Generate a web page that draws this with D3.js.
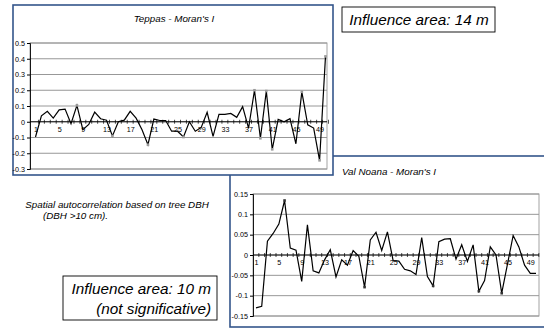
<!DOCTYPE html>
<html>
<head>
<meta charset="utf-8">
<script src="https://cdn.jsdelivr.net/npm/d3@7"></script>
<style>
  body { margin: 0; background: #fff; }
  svg { display: block; font-family: Arial, "Liberation Sans", sans-serif; }
</style>
</head>
<body>
<svg id="chart" width="544" height="329"></svg>
<script>
// categories 1..50 (distance classes)
const categories = d3.range(1, 51);
const catLabels = [1, 5, 9, 13, 17, 21, 25, 29, 33, 37, 41, 45, 49];

// Teppas - Moran's I
const teppasValues = [-0.097, 0.038, 0.066, 0.023, 0.076, 0.08, -0.013, 0.104, -0.05, -0.017,
  0.061, 0.019, 0.01, -0.09, 0.0, 0.01, 0.066, 0.023, -0.051, -0.146,
  0.017, 0.008, 0.008, -0.06, -0.06, -0.097, 0.0, -0.06, -0.036, 0.06,
  -0.093, 0.047, 0.047, 0.053, 0.028, 0.096, -0.04, 0.2, -0.105, 0.195,
  -0.175, 0.015, 0.0, 0.02, -0.14, 0.19, -0.02, -0.04, -0.245, 0.415];
const teppasMarked = [8, 14, 20, 26, 38, 39, 40, 41, 46, 49, 50];
const teppasTicks = [0.5, 0.4, 0.3, 0.2, 0.1, 0, -0.1, -0.2, -0.3];

// Val Noana - Moran's I
const noanaValues = [-0.13, -0.126, 0.034, 0.053, 0.076, 0.134, 0.017, 0.012, -0.065, 0.074,
  -0.039, -0.044, -0.012, 0.013, -0.054, -0.012, -0.025, 0.011, -0.003, -0.079,
  0.037, 0.056, 0.011, 0.057, -0.014, -0.015, -0.035, -0.039, -0.048, 0.043,
  -0.053, -0.076, 0.033, 0.039, 0.04, -0.01, 0.025, -0.016, 0.025, -0.089,
  -0.063, 0.02, 0.0, -0.094, -0.023, 0.048, 0.02, -0.025, -0.045, -0.045];
const noanaMarked = [6, 20, 32, 40, 44];
const noanaTicks = [0.15, 0.1, 0.05, 0, -0.05, -0.1, -0.15];

const svg = d3.select('#chart');
const frameColor = '#34558b';

function drawChart(g, cfg) {
  // frame
  g.append('rect')
    .attr('x', cfg.frame[0]).attr('y', cfg.frame[1])
    .attr('width', cfg.frame[2]).attr('height', cfg.frame[3])
    .attr('fill', '#fff')
    .attr('stroke', frameColor)
    .attr('stroke-width', 1.6);

  g.append('text')
    .attr('x', cfg.titleX).attr('y', cfg.titleY)
    .attr('text-anchor', 'middle')
    .attr('font-size', 9.8)
    .attr('font-style', 'italic')
    .text(cfg.title);

  const x = d3.scalePoint()
    .domain(categories)
    .range([cfg.firstX, cfg.lastX]);
  const step = x.step();
  const y = d3.scaleLinear()
    .domain(cfg.yDomain)
    .range([cfg.bottom, cfg.top]);

  // gridlines
  g.append('g')
    .selectAll('line')
    .data(cfg.ticks)
    .join('line')
    .attr('x1', cfg.left).attr('x2', cfg.right)
    .attr('y1', d => y(d)).attr('y2', d => y(d))
    .attr('stroke', '#8c8c8c')
    .attr('stroke-width', 0.9);

  // plot border
  g.append('rect')
    .attr('x', cfg.left).attr('y', cfg.top)
    .attr('width', cfg.right - cfg.left).attr('height', cfg.bottom - cfg.top)
    .attr('fill', 'none')
    .attr('stroke', '#9a9a9a')
    .attr('stroke-width', 0.9);

  // y axis
  const yAxis = g.append('g')
    .attr('transform', `translate(${cfg.left},0)`)
    .call(d3.axisLeft(y).tickValues(cfg.ticks).tickSize(3).tickPadding(2)
      .tickFormat(d => d === 0 ? '0' : String(d)));
  yAxis.select('.domain').attr('stroke', '#000').attr('stroke-width', 0.9);
  yAxis.selectAll('.tick line').attr('stroke', '#000');
  yAxis.selectAll('text').attr('font-size', 7.2).attr('font-family', 'Arial, "Liberation Sans", sans-serif').attr('fill', '#000');

  // category labels under the zero line
  const xAxis = g.append('g')
    .attr('transform', `translate(0,${y(0)})`)
    .call(d3.axisBottom(x).tickValues(catLabels).tickSize(0).tickPadding(5));
  xAxis.select('.domain').remove();
  xAxis.selectAll('text').attr('font-size', 7.2).attr('font-family', 'Arial, "Liberation Sans", sans-serif').attr('fill', '#000');

  // zero axis with crossing ticks at category boundaries
  g.append('line')
    .attr('x1', cfg.left).attr('x2', cfg.right)
    .attr('y1', y(0)).attr('y2', y(0))
    .attr('stroke', '#000').attr('stroke-width', 0.9);
  g.append('g')
    .selectAll('line')
    .data(categories)
    .join('line')
    .attr('x1', d => x(d) + step / 2).attr('x2', d => x(d) + step / 2)
    .attr('y1', y(0) - 2).attr('y2', y(0) + 2)
    .attr('stroke', '#000').attr('stroke-width', 0.7);

  // series line
  const line = d3.line()
    .x((d, i) => x(categories[i]))
    .y(d => y(d));
  g.append('path')
    .datum(cfg.values)
    .attr('d', line)
    .attr('fill', 'none')
    .attr('stroke', '#000')
    .attr('stroke-width', 1.2)
    .attr('stroke-linejoin', 'miter');

  // marked points
  g.append('g')
    .selectAll('rect')
    .data(cfg.marked)
    .join('rect')
    .attr('x', d => x(d) - 1.3)
    .attr('y', d => y(cfg.values[d - 1]) - 1.3)
    .attr('width', 2.6).attr('height', 2.6)
    .attr('fill', cfg.markColor);
}

// bottom chart first: the top chart covers its upper-left corner
drawChart(svg.append('g'), {
  frame: [230, 156, 320, 171],
  title: "Val Noana - Moran's I",
  titleX: 389, titleY: 175,
  left: 253, right: 539, top: 194, bottom: 316,
  firstX: 256, lastX: 536,
  yDomain: [-0.15, 0.15],
  ticks: noanaTicks,
  values: noanaValues,
  marked: noanaMarked,
  markColor: '#333'
});

drawChart(svg.append('g'), {
  frame: [13, 5, 320, 170],
  title: "Teppas - Moran's I",
  titleX: 174, titleY: 22,
  left: 30, right: 327, top: 43, bottom: 169,
  firstX: 35.5, lastX: 325.5,
  yDomain: [-0.3, 0.5],
  ticks: teppasTicks,
  values: teppasValues,
  marked: teppasMarked,
  markColor: '#9a9a9a'
});

// annotations
const note = svg.append('g').attr('font-style', 'italic');

note.append('rect')
  .attr('x', 342).attr('y', 7).attr('width', 153).attr('height', 25)
  .attr('fill', '#fff').attr('stroke', '#000').attr('stroke-width', 0.9);
note.append('text')
  .attr('x', 419).attr('y', 25)
  .attr('text-anchor', 'middle')
  .attr('font-size', 15.3)
  .text('Influence area: 14 m');

note.append('text')
  .attr('x', 117).attr('y', 208)
  .attr('text-anchor', 'middle')
  .attr('font-size', 9.8)
  .text('Spatial autocorrelation based on tree DBH');
note.append('text')
  .attr('x', 43).attr('y', 219)
  .attr('font-size', 9.8)
  .text('(DBH >10 cm).');

note.append('rect')
  .attr('x', 63).attr('y', 276).attr('width', 154).attr('height', 44)
  .attr('fill', '#fff').attr('stroke', '#000').attr('stroke-width', 0.9);
note.append('text')
  .attr('x', 211).attr('y', 294)
  .attr('text-anchor', 'end')
  .attr('font-size', 15.3)
  .text('Influence area: 10 m');
note.append('text')
  .attr('x', 211).attr('y', 314)
  .attr('text-anchor', 'end')
  .attr('font-size', 15.3)
  .text('(not significative)');
</script>
</body>
</html>
